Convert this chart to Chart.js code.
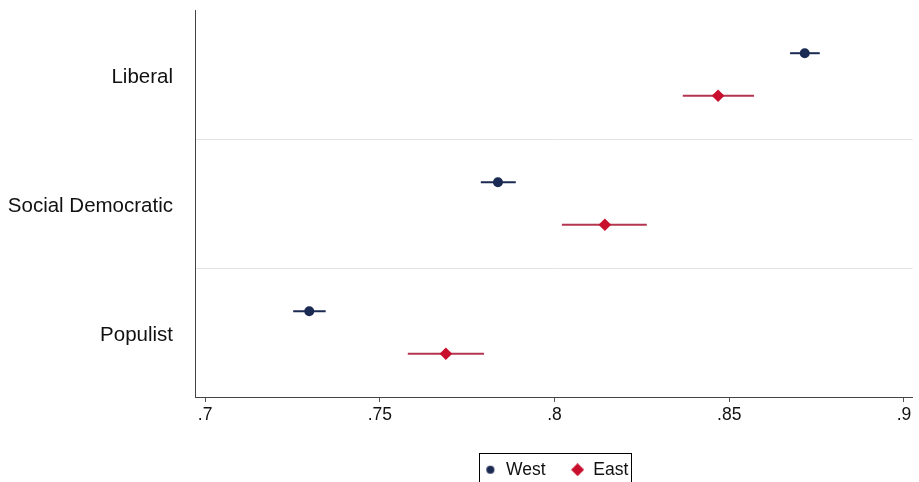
<!DOCTYPE html>
<html><head><meta charset="utf-8">
<script src="https://cdn.jsdelivr.net/npm/chart.js@4/dist/chart.umd.min.js"></script>
<style>html,body{margin:0;padding:0;background:#fff}#wrap{width:919px;height:482px;overflow:hidden}</style>
</head><body><div id="wrap"><canvas id="c" width="919" height="482"></canvas></div>
<script>
// Categories listed bottom to top (y positions 1,2,3)
const categories = ['Populist', 'Social Democratic', 'Liberal'];
const seriesNames = ['West', 'East'];
const westMean = [0.7298, 0.7838, 0.8716];
const westLow  = [0.7252, 0.7789, 0.8674];
const westHigh = [0.7345, 0.7889, 0.8759];
const eastMean = [0.7689, 0.8144, 0.8468];
const eastLow  = [0.7580, 0.8021, 0.8367];
const eastHigh = [0.7798, 0.8264, 0.8571];
const xTicks = [0.7, 0.75, 0.8, 0.85, 0.9];

const OFF = 0.165;
const westColor = '#1b2a52';
const eastColor = '#c8102e';
const eastBar = '#b3354f';
const FONT = "'Liberation Sans', Arial, sans-serif";
const LEG_PAD = 25;

const westData = westMean.map((v, i) => ({x: v, y: i + 1 + OFF, lo: westLow[i], hi: westHigh[i]}));
const eastData = eastMean.map((v, i) => ({x: v, y: i + 1 - OFF, lo: eastLow[i], hi: eastHigh[i]}));

// legend icons
function makeIcon(kind, color, size) {
  const cv = document.createElement('canvas');
  cv.width = size; cv.height = size;
  const g = cv.getContext('2d');
  g.fillStyle = color;
  const c = size / 2;
  g.beginPath();
  if (kind === 'circle') {
    g.arc(c, c, c - 1, 0, Math.PI * 2);
  } else {
    g.moveTo(c, 0); g.lineTo(size, c); g.lineTo(c, size); g.lineTo(0, c); g.closePath();
  }
  g.fill();
  return cv;
}
const legendIcons = [makeIcon('circle', westColor, 10), makeIcon('diamond', eastColor, 13)];

const errorBars = {
  id: 'errorBars',
  beforeDatasetsDraw(chart) {
    const {ctx, scales: {x, y}} = chart;
    const cols = [westColor, eastBar];
    chart.data.datasets.forEach((ds, di) => {
      ctx.save();
      ctx.strokeStyle = cols[di];
      ctx.lineWidth = 2;
      ds.data.forEach(p => {
        const py = y.getPixelForValue(p.y);
        ctx.beginPath();
        ctx.moveTo(x.getPixelForValue(p.lo), py);
        ctx.lineTo(x.getPixelForValue(p.hi), py);
        ctx.stroke();
      });
      ctx.restore();
    });
  }
};

const legendBox = {
  id: 'legendBox',
  afterLayout(chart) {
    const lg = chart.legend;
    const hb = lg.legendHitBoxes || [];
    if (!hb.length) return;
    const span = hb.reduce((s, h) => s + h.width, 0) + LEG_PAD * (hb.length - 1);
    const cx = (chart.chartArea.left + chart.chartArea.right) / 2 + 2;
    const rowLeft = cx - span / 2;
    lg.left = rowLeft - LEG_PAD;
    lg.right = chart.width;
    lg.width = lg.right - lg.left;
    lg.top = chart.height - 46;
    lg.bottom = chart.height;
  },
  afterDraw(chart) {
    const hb = chart.legend.legendHitBoxes;
    if (!hb || !hb.length) return;
    const ctx = chart.ctx;
    const l = hb[0].left - 4;
    const last = hb[hb.length - 1];
    const r = last.left + last.width + 3;
    const t = chart.legend.top + LEG_PAD - 8;
    ctx.save();
    ctx.strokeStyle = '#000';
    ctx.lineWidth = 1;
    ctx.strokeRect(Math.round(l) + 0.5, Math.round(t) + 0.5, Math.round(r - l), 60);
    ctx.restore();
  }
};

new Chart(document.getElementById('c'), {
  type: 'scatter',
  data: {
    datasets: [
      {label: seriesNames[0], data: westData, pointStyle: 'circle', pointRadius: 5, pointHoverRadius: 5,
       backgroundColor: westColor, borderColor: westColor, borderWidth: 0},
      {label: seriesNames[1], data: eastData, pointStyle: 'rectRot', pointRadius: 6.3, pointHoverRadius: 6.3,
       backgroundColor: eastColor, borderColor: eastColor, borderWidth: 0}
    ]
  },
  options: {
    responsive: false,
    animation: false,
    devicePixelRatio: 1,
    layout: {padding: {left: 0, right: 5, top: 10, bottom: 0}},
    plugins: {
      tooltip: {enabled: false},
      legend: {
        position: 'bottom',
        align: 'start',
        maxHeight: 30,
        labels: {
          usePointStyle: true, boxHeight: 7, boxWidth: 14, padding: LEG_PAD,
          color: '#111', font: {family: FONT, size: 17.5},
          generateLabels: chart => {
            const items = Chart.defaults.plugins.legend.labels.generateLabels(chart);
            items.forEach((it, i) => { it.pointStyle = legendIcons[i]; });
            return items;
          }
        }
      }
    },
    scales: {
      x: {
        type: 'linear', min: 0.6971, max: 0.9025,
        afterBuildTicks: s => { s.ticks = xTicks.map(v => ({value: v})); },
        afterFit: s => { s.height = 55; },
        border: {display: true, color: '#444', width: 1},
        grid: {display: true, drawOnChartArea: false, drawTicks: true, tickLength: 5, color: '#555'},
        ticks: {
          color: '#111', padding: 3, maxRotation: 0,
          font: {family: FONT, size: 17.5},
          callback: v => String(+v.toFixed(2)).replace(/^0/, '')
        }
      },
      y: {
        type: 'linear', min: 0.5, max: 3.5,
        afterBuildTicks: s => { s.ticks = [1, 1.5, 2, 2.5, 3].map(v => ({value: v})); },
        afterFit: s => { s.width = 195; },
        border: {display: true, color: '#444', width: 1},
        grid: {
          drawTicks: true, tickLength: 22, tickColor: 'rgba(0,0,0,0)',
          color: c => (c.tick && c.tick.value % 1 !== 0) ? '#e3e3e3' : 'rgba(0,0,0,0)',
          lineWidth: 1
        },
        ticks: {
          color: '#111', padding: 0, labelOffset: 3,
          font: {family: FONT, size: 20.5, lineHeight: 0.9},
          callback: v => (v % 1 === 0 ? categories[v - 1] : '')
        }
      }
    }
  },
  plugins: [errorBars, legendBox]
});
</script></body></html>
